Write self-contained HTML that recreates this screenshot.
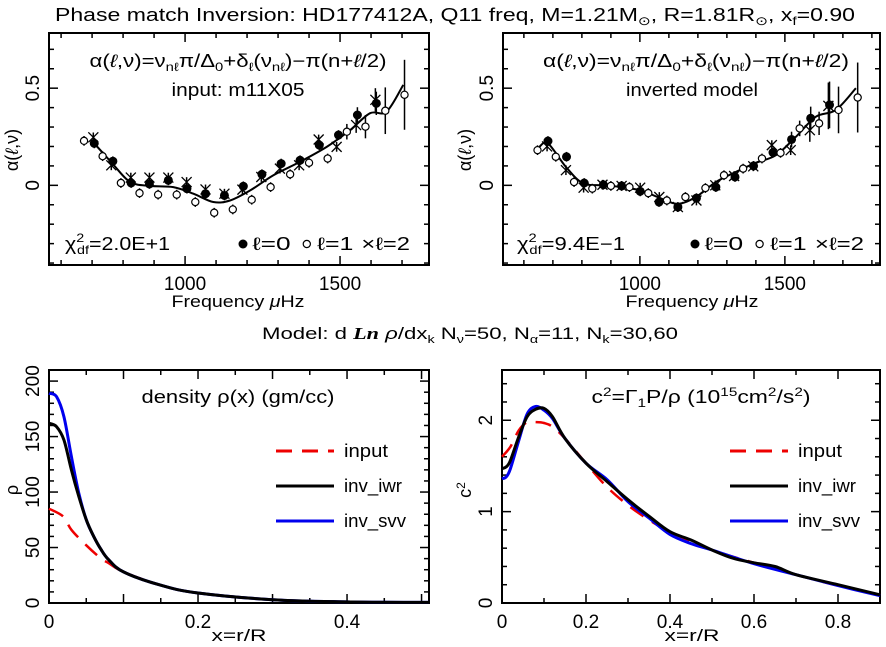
<!DOCTYPE html>
<html><head><meta charset="utf-8"><style>
html,body{margin:0;padding:0;background:#fff;}
svg{display:block;font-family:"Liberation Sans",sans-serif;}
text{fill:#000;}
</style></head><body>
<svg id="fig" width="886" height="647" viewBox="0 0 886 647" xmlns="http://www.w3.org/2000/svg">
<text x="455" y="21" font-size="18" text-anchor="middle" textLength="800" lengthAdjust="spacingAndGlyphs">Phase match Inversion: HD177412A, Q11 freq, M=1.21M<tspan font-size="12" dy="4">⊙</tspan><tspan dy="-4">, R=1.81R</tspan><tspan font-size="12" dy="4">⊙</tspan><tspan dy="-4">, x</tspan><tspan font-size="12" dy="4">f</tspan><tspan dy="-4">=0.90</tspan></text>
<text x="238" y="307" font-size="17" text-anchor="middle" textLength="133" lengthAdjust="spacingAndGlyphs">Frequency <tspan font-style="italic">μ</tspan>Hz</text>
<text x="692" y="307" font-size="17" text-anchor="middle" textLength="133" lengthAdjust="spacingAndGlyphs">Frequency <tspan font-style="italic">μ</tspan>Hz</text>
<text x="470" y="339" font-size="17" text-anchor="middle" textLength="416" lengthAdjust="spacingAndGlyphs">Model: d <tspan font-style="italic" font-weight="bold" font-family="Liberation Serif">Ln</tspan> <tspan font-style="italic">ρ</tspan>/dx<tspan font-size="11" dy="4">k</tspan><tspan dy="-4">     N</tspan><tspan font-size="11" dy="4">ν</tspan><tspan dy="-4">=50, N</tspan><tspan font-size="11" dy="4">α</tspan><tspan dy="-4">=11, N</tspan><tspan font-size="11" dy="4">k</tspan><tspan dy="-4">=30,60</tspan></text>
<text x="239" y="641" font-size="17" text-anchor="middle" textLength="55" lengthAdjust="spacingAndGlyphs">x=r/R</text>
<text x="692" y="641" font-size="17" text-anchor="middle" textLength="55" lengthAdjust="spacingAndGlyphs">x=r/R</text>
<text transform="translate(18,150) rotate(-90)" font-size="18" text-anchor="middle">α(<tspan font-style="italic">ℓ</tspan>,ν)</text>
<text transform="translate(471,150) rotate(-90)" font-size="18" text-anchor="middle">α(<tspan font-style="italic">ℓ</tspan>,ν)</text>
<text transform="translate(18,490) rotate(-90)" font-size="18" text-anchor="middle">ρ</text>
<text transform="translate(471,490) rotate(-90)" font-size="18" text-anchor="middle">c<tspan font-size="12" dy="-6">2</tspan></text>
</svg>
<script>
// ---- Top-left data (input model) ----
const tlL0f=[707,767,826,885,946,1006,1066,1127,1188,1248,1310,1371,1433,1495,1556,1617];
const tlL0a=[0.216,0.124,0.012,0.007,0.026,-0.017,-0.043,-0.052,-0.005,0.057,0.112,0.129,0.207,0.259,0.362,0.422];
const tlL1f=[674,734,793,853,913,973,1033,1094,1154,1215,1276,1339,1400,1460,1522,1582,1646,1708];
const tlL1a=[0.229,0.15,0.012,-0.04,-0.048,-0.048,-0.086,-0.141,-0.124,-0.074,-0.009,0.057,0.116,0.138,0.276,0.302,0.384,0.466];
const tlL2f=[704,762,825,885,946,1005,1066,1127,1185,1246,1306,1368,1431,1489,1552,1614];
const tlL2a=[0.247,0.103,0.04,0.04,0.04,0.017,-0.021,-0.043,-0.022,0.043,0.086,0.103,0.236,0.198,0.31,0.44];
const tlCurveF=[707,767,823,887,962,1027,1091,1145,1210,1285,1371,1457,1532,1597,1650,1704];
const tlCurveA=[0.216,0.11,0.017,-0.003,-0.009,-0.043,-0.086,-0.078,-0.026,0.052,0.121,0.198,0.284,0.371,0.379,0.517];
// ---- Top-right data (inverted model) ----
const trL0f=[683,747,808,874,937,1001,1066,1131,1195,1262,1328,1392,1459,1523,1589,1654];
const trL0a=[0.228,0.147,0.012,0.003,-0.003,-0.031,-0.086,-0.112,-0.066,-0.009,0.043,0.1,0.169,0.236,0.345,0.414];
const trL1f=[647,710,773,836,900,964,1029,1093,1157,1226,1290,1356,1421,1485,1551,1618,1685,1751];
const trL1a=[0.181,0.147,0.017,-0.017,-0.003,-0.009,-0.04,-0.078,-0.06,-0.014,0.052,0.086,0.138,0.167,0.293,0.319,0.388,0.452];
const trL2f=[680,745,806,871,937,1001,1067,1131,1195,1260,1325,1391,1455,1520,1586,1650];
const trL2a=[0.2,0.078,-0.012,0.003,-0.003,-0.012,-0.06,-0.112,-0.078,0,0.048,0.098,0.207,0.181,0.284,0.409];
const trCurveF=[653,683,745,802,871,940,1009,1067,1130,1193,1262,1331,1400,1469,1538,1607,1676,1745];
const trCurveA=[0.198,0.216,0.095,0.012,0,-0.009,-0.029,-0.064,-0.095,-0.06,0.017,0.069,0.116,0.155,0.25,0.353,0.388,0.5];
// ---- Bottom-left density ----
const rhoInX=[0,0.019,0.03,0.05,0.07,0.08,0.1,0.15,0.2,0.3,0.4,0.51];
const rhoIn=[85,78,66,52,40,36,28,16,9,3,1,0.5];
const rhoIwrX=[0,0.01,0.02,0.03,0.04,0.05,0.06,0.07,0.08,0.1,0.15,0.2,0.3,0.4,0.51];
const rhoIwr=[162,159,147,120,96,75,60,48,39,28,16,9,3,1,0.5];
const rhoSvvX=[0,0.01,0.02,0.03,0.04,0.05,0.06,0.07,0.08,0.1,0.15,0.2,0.3,0.4,0.51];
const rhoSvv=[189,186,168,132,99,75,60,48,39,28,16,9,3,1,0.5];
// ---- Bottom-right sound speed ----
const c2InX=[0,0.02,0.04,0.06,0.08,0.1,0.12,0.15,0.2,0.25,0.3,0.35,0.4,0.5,0.6,0.7,0.8,0.9];
const c2In=[1.6,1.71,1.89,1.98,1.98,1.97,1.93,1.8,1.53,1.27,1.07,0.91,0.78,0.58,0.44,0.31,0.19,0.09];
const c2IwrX=[0,0.01,0.02,0.04,0.06,0.08,0.1,0.12,0.15,0.2,0.25,0.3,0.35,0.4,0.45,0.5,0.55,0.6,0.65,0.7,0.8,0.9];
const c2Iwr=[1.47,1.49,1.56,1.82,2.04,2.12,2.13,2.04,1.8,1.53,1.33,1.13,0.95,0.78,0.69,0.58,0.49,0.44,0.4,0.31,0.2,0.09];
const c2SvvX=[0,0.01,0.02,0.04,0.06,0.08,0.1,0.12,0.15,0.2,0.25,0.3,0.35,0.4,0.45,0.5,0.6,0.7,0.8,0.9];
const c2Svv=[1.36,1.38,1.47,1.78,2.07,2.15,2.11,2.02,1.8,1.53,1.35,1.11,0.93,0.75,0.65,0.58,0.43,0.31,0.19,0.08];

const NS='http://www.w3.org/2000/svg';
const svg=document.getElementById('fig');
function mk(tag,attrs,parent){const e=document.createElementNS(NS,tag);for(const k in attrs)e.setAttribute(k,attrs[k]);(parent||svg).appendChild(e);return e;}
function txt(s,x,y,size,anchor,parent,len){const a={x:x,y:y,'font-size':size,'text-anchor':anchor||'middle'};if(len){a.textLength=len;a.lengthAdjust='spacingAndGlyphs';}const t=mk('text',a,parent);t.textContent=s;return t;}
function smoothPath(pts){let d='M'+pts[0][0].toFixed(1)+','+pts[0][1].toFixed(1);
 for(let i=0;i<pts.length-1;i++){const p0=pts[i-1]||pts[i],p1=pts[i],p2=pts[i+1],p3=pts[i+2]||p2;
  const c1x=p1[0]+(p2[0]-p0[0])/6,c1y=p1[1]+(p2[1]-p0[1])/6,c2x=p2[0]-(p3[0]-p1[0])/6,c2y=p2[1]-(p3[1]-p1[1])/6;
  d+=' C'+c1x.toFixed(1)+','+c1y.toFixed(1)+' '+c2x.toFixed(1)+','+c2y.toFixed(1)+' '+p2[0].toFixed(1)+','+p2[1].toFixed(1);}
 return d;}
function axes(p){
 const g=mk('g',{});
 
 
 const sx=v=>p.x0+(v-p.xmin)/(p.xmax-p.xmin)*(p.x1-p.x0);
 const sy=v=>p.y1-(v-p.ymin)/(p.ymax-p.ymin)*(p.y1-p.y0);
 const box=mk('rect',{x:p.x0,y:p.y0,width:p.x1-p.x0,height:p.y1-p.y0,fill:'none',stroke:'#000','stroke-width':2},g);
 
 
 for(let v=Math.ceil(p.xmin/p.xminor-1e-9)*p.xminor;v<=p.xmax+1e-9;v+=p.xminor){
  const maj=Math.abs(v/p.xmajor-Math.round(v/p.xmajor))<1e-6;const L=maj?9:5;const X=sx(v);
  mk('line',{x1:X,y1:p.y1,x2:X,y2:p.y1-L,stroke:'#000','stroke-width':1.5},g);
  mk('line',{x1:X,y1:p.y0,x2:X,y2:p.y0+L,stroke:'#000','stroke-width':1.5},g);}
 for(let v=Math.ceil(p.ymin/p.yminor-1e-9)*p.yminor;v<=p.ymax+1e-9;v+=p.yminor){
  const maj=Math.abs(v/p.ymajor-Math.round(v/p.ymajor))<1e-6;const L=maj?9:5;const Y=sy(v);
  mk('line',{x1:p.x0,y1:Y,x2:p.x0+L,y2:Y,stroke:'#000','stroke-width':1.5},g);
  mk('line',{x1:p.x1,y1:Y,x2:p.x1-L,y2:Y,stroke:'#000','stroke-width':1.5},g);}
 p.xlabels.forEach(v=>{const t=txt(String(v),sx(v),p.y1+25,19,'middle',g);
  
  });
 p.ylabels.forEach(v=>{const t=mk('text',{transform:'translate('+(p.x0-10)+','+sy(v)+') rotate(-90)','font-size':19,'text-anchor':'middle'},g);t.textContent=String(v);
  
  });
 return {g,sx,sy};}
function curve(a,xs,ys,color,w,dash,name){
 const pts=xs.map((x,i)=>[a.sx(x),a.sy(ys[i])]);
 const attrs={d:smoothPath(pts),fill:'none',stroke:color,'stroke-width':w,'stroke-linejoin':'round'};
 if(dash)attrs['stroke-dasharray']=dash;
 const e=mk('path',attrs,a.g);
 
 }
function errbar(a,f,v,err){mk('line',{x1:a.sx(f),x2:a.sx(f),y1:a.sy(v-err),y2:a.sy(v+err),stroke:'#000','stroke-width':1.5},a.g);}
function errOf(f){if(f>1690)return 0.18;if(f>1630)return 0.12;if(f>1570)return 0.06;if(f>1520)return 0.04;return 0.025;}
function points(a,F0,A0,F1,A1,F2,A2){
 F1.forEach((f,i)=>{errbar(a,f,A1[i],errOf(f));const c=mk('circle',{cx:a.sx(f),cy:a.sy(A1[i]),r:3.6,fill:'#fff',stroke:'#000','stroke-width':1.2},a.g);
  
  });
 F2.forEach((f,i)=>{errbar(a,f,A2[i],errOf(f));const X=a.sx(f),Y=a.sy(A2[i]);const g=mk('g',{},a.g);
  
  
  mk('path',{d:'M'+(X-5)+','+(Y-5)+'L'+(X+5)+','+(Y+5)+'M'+(X-5)+','+(Y+5)+'L'+(X+5)+','+(Y-5),stroke:'#000','stroke-width':1.3},g);});
 F0.forEach((f,i)=>{errbar(a,f,A0[i],errOf(f));const c=mk('circle',{cx:a.sx(f),cy:a.sy(A0[i]),r:4.5,fill:'#000'},a.g);
  
  });}
function formula(g,cx,y,len){const t=mk('text',{x:cx,y:y,'font-size':18,'text-anchor':'middle',textLength:len,lengthAdjust:'spacingAndGlyphs'},g);
 t.innerHTML='α(<tspan font-style="italic">ℓ</tspan>,ν)=ν<tspan font-size="12" dy="4">nℓ</tspan><tspan dy="-4">π/Δ</tspan><tspan font-size="12" dy="4">0</tspan><tspan dy="-4">+δ</tspan><tspan font-size="12" dy="4">ℓ</tspan><tspan dy="-4">(ν</tspan><tspan font-size="12" dy="4">nℓ</tspan><tspan dy="-4">)−π(n+</tspan><tspan font-style="italic">ℓ</tspan>/2)';
 
 }
function symLegend(g,x,w){
 const y=250;const s=w/170;
 mk('circle',{cx:x+5,cy:y-6,r:4.5,fill:'#000'},g);
 txt('ℓ=0',x+14*s,y,18,'start',g,38*s);
 mk('circle',{cx:x+68*s,cy:y-6,r:3.6,fill:'#fff',stroke:'#000','stroke-width':1.2},g);
 txt('ℓ=1',x+78*s,y,18,'start',g,36*s);
 txt('×ℓ=2',x+122*s,y,18,'start',g,48*s);}
function chi(g,x,val,len){const t=mk('text',{x:x,y:250,'font-size':18,'text-anchor':'start',textLength:len,lengthAdjust:'spacingAndGlyphs'},g);
 t.innerHTML='χ<tspan font-size="12" dy="-8">2</tspan><tspan font-size="12" dx="-6" dy="12">df</tspan><tspan dy="-4">='+val+'</tspan>';
 
 }

// Top-left
const tl=axes({name:'panel-input-phase',x0:49,x1:429,y0:33,y1:265,xmin:561,xmax:1787,ymin:-0.41,ymax:0.784,xminor:100,xmajor:500,yminor:0.1,ymajor:0.5,xlabels:[1000,1500],ylabels:[0,0.5]});
curve(tl,tlCurveF,tlCurveA,'#000',2,null,'fit-curve');
points(tl,tlL0f,tlL0a,tlL1f,tlL1a,tlL2f,tlL2a);
formula(tl.g,238,67,297);
txt('input: m11X05',238,96,18,'middle',tl.g,133);
chi(tl.g,65,'2.0E+1',105);
symLegend(tl.g,238,172);
// Top-right
const tr=axes({name:'panel-inverted-phase',x0:503,x1:880,y0:33,y1:265,xmin:528,xmax:1828,ymin:-0.41,ymax:0.784,xminor:100,xmajor:500,yminor:0.1,ymajor:0.5,xlabels:[1000,1500],ylabels:[0,0.5]});
curve(tr,trCurveF,trCurveA,'#000',2,null,'fit-curve');
points(tr,trL0f,trL0a,trL1f,trL1a,trL2f,trL2a);
formula(tr.g,696,67,306);
txt('inverted model',692,96,18,'middle',tr.g,132);
chi(tr.g,517,'9.4E−1',108);
symLegend(tr.g,690,174);
// Bottom-left
const bl=axes({name:'panel-density',x0:49,x1:429,y0:370,y1:603,xmin:0,xmax:0.51,ymin:0,ymax:210,xminor:0.05,xmajor:0.1,yminor:10,ymajor:50,xlabels:[0,0.2,0.4],ylabels:[0,50,100,150,200]});
curve(bl,rhoInX,rhoIn,'#e00',2.5,'16,10','density-input');
curve(bl,rhoSvvX,rhoSvv,'#00e',3,null,'density-inv-svv');
curve(bl,rhoIwrX,rhoIwr,'#000',3,null,'density-inv-iwr');
txt('density ρ(x) (gm/cc)',238,403,18,'middle',bl.g,193);
// Bottom-right
const br=axes({name:'panel-sound-speed',x0:502,x1:880,y0:370,y1:603,xmin:0,xmax:0.9,ymin:0,ymax:2.55,xminor:0.1,xmajor:0.2,yminor:0.2,ymajor:1,xlabels:[0,0.2,0.4,0.6,0.8],ylabels:[0,1,2]});
curve(br,c2InX,c2In,'#e00',2.5,'16,10','c2-input');
curve(br,c2SvvX,c2Svv,'#00e',3,null,'c2-inv-svv');
curve(br,c2IwrX,c2Iwr,'#000',3,null,'c2-inv-iwr');
(function(){const t=mk('text',{x:701,y:403,'font-size':18,'text-anchor':'middle',textLength:219,lengthAdjust:'spacingAndGlyphs'},br.g);
 t.innerHTML='c<tspan font-size="12" dy="-7">2</tspan><tspan dy="7">=Γ</tspan><tspan font-size="12" dy="4">1</tspan><tspan dy="-4">P/ρ (10</tspan><tspan font-size="12" dy="-7">15</tspan><tspan dy="7">cm</tspan><tspan font-size="12" dy="-7">2</tspan><tspan dy="7">/s</tspan><tspan font-size="12" dy="-7">2</tspan><tspan dy="7">)</tspan>';
 
 })();
function legend(g,x,xt,names){
 const cols=['#e00','#000','#00e'];const ys=[451,486,521];const lens=[44,58,62];
 names.forEach((n,i)=>{const e=mk('g',{},g);
  
  
  const a={x1:x,x2:x+58,y1:ys[i],y2:ys[i],stroke:cols[i],'stroke-width':3};if(i==0)a['stroke-dasharray']='16,10';
  mk('line',a,e);txt(n,xt,ys[i]+6,18,'start',e,lens[i]);});}
legend(bl.g,276,344,['input','inv_iwr','inv_svv']);
legend(br.g,730,798,['input','inv_iwr','inv_svv']);
</script>
</body></html>
